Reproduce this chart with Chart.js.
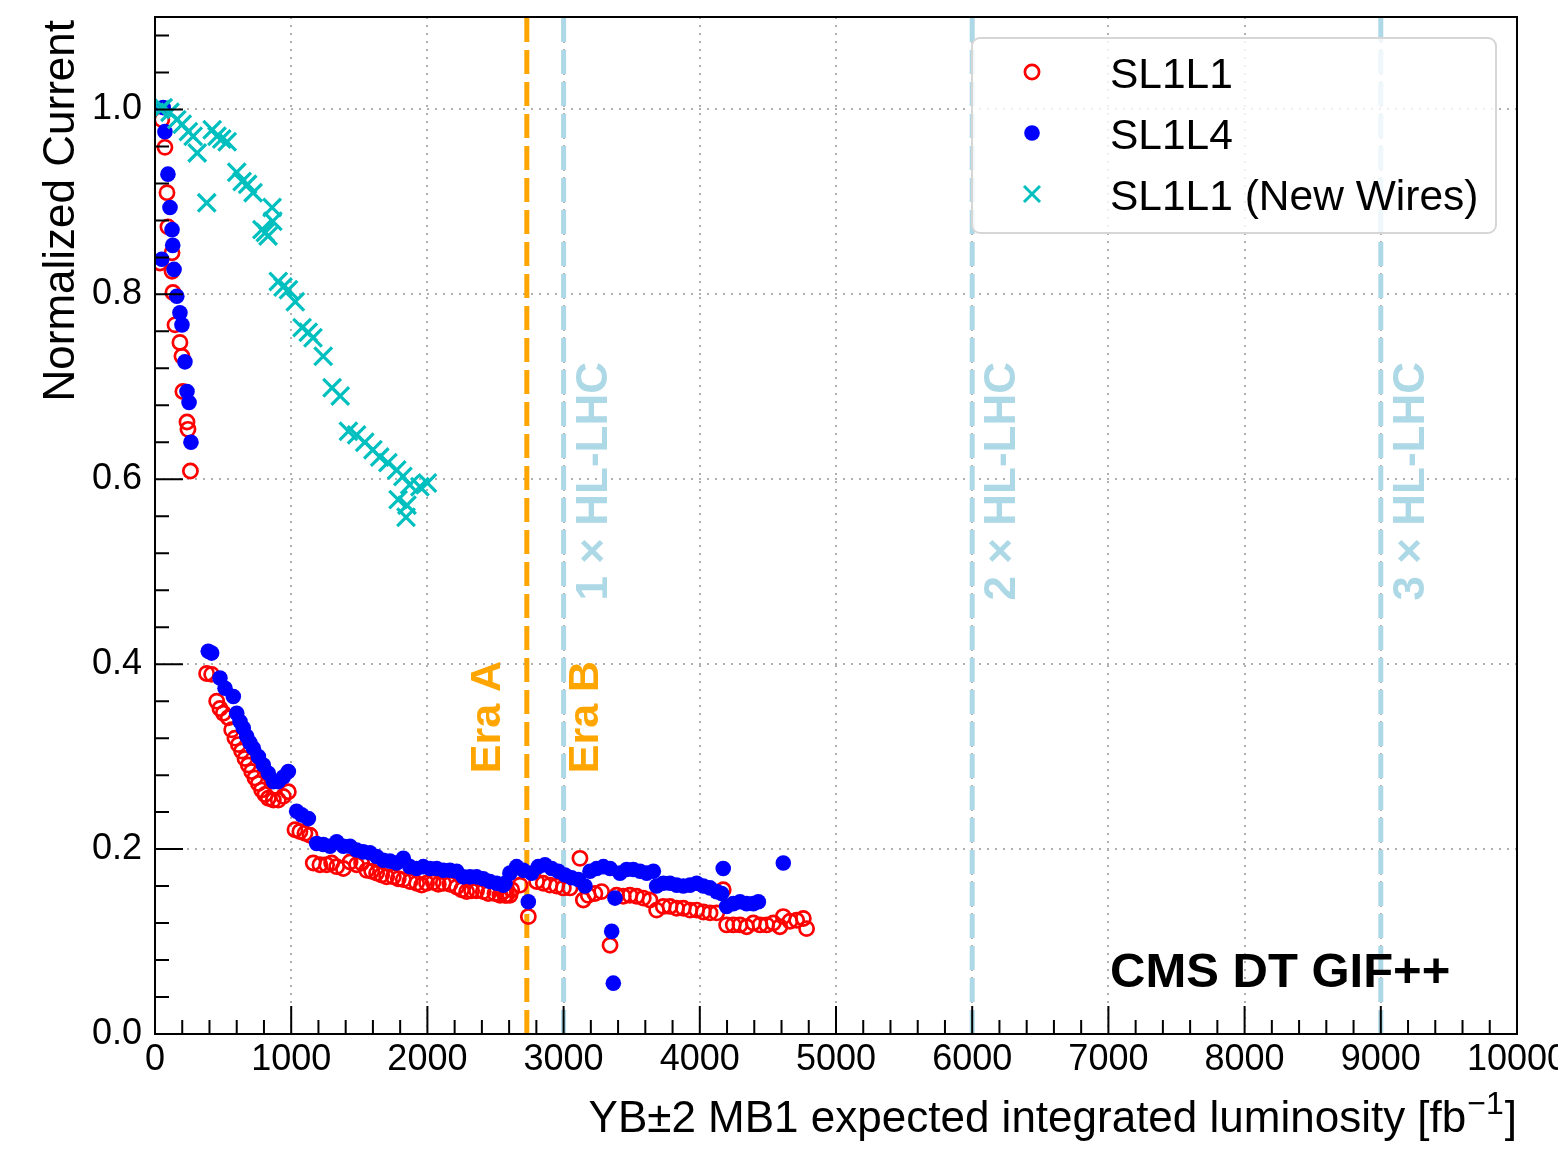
<!DOCTYPE html>
<html>
<head>
<meta charset="utf-8">
<script src="https://cdn.jsdelivr.net/npm/chart.js@4.4.1/dist/chart.umd.min.js"></script>
<style>
  html, body { margin: 0; padding: 0; background: #fff; }
</style>
</head>
<body>
<canvas id="chart" width="1558" height="1153"></canvas>
<script>
// SL1L1 (open red circles)
const sl1l1X = [37, 50, 73, 88, 95, 125, 125, 132, 147, 183, 198, 205, 235, 242, 260,
  379, 416, 453, 477, 502, 538, 563, 587, 612, 636, 661, 685, 710, 734, 759, 783, 808, 832, 869, 905, 942, 979,
  1028, 1064, 1101, 1138, 1162, 1211, 1260, 1297, 1334, 1383, 1432, 1480, 1517, 1554, 1591, 1627, 1664, 1701,
  1750, 1786, 1823, 1872, 1921, 1958, 1994, 2043, 2080, 2117, 2166, 2215, 2251, 2288, 2325, 2361, 2410, 2447,
  2496, 2533, 2557, 2569, 2582, 2606, 2619, 2680, 2741, 2802, 2851, 2900, 2949, 2998, 3047, 3120, 3145, 3181,
  3230, 3279, 3341, 3389, 3438, 3487, 3536, 3585, 3634, 3683, 3732, 3781, 3830, 3879, 3928, 3977, 4026, 4075,
  4124, 4172, 4197, 4246, 4295, 4344, 4393, 4442, 4491, 4540, 4588, 4613, 4662, 4711, 4760, 4784];
const sl1l1Y = [0.834, 0.989, 0.959, 0.910, 0.873, 0.845, 0.825, 0.802, 0.767, 0.748, 0.733, 0.695, 0.662, 0.654, 0.609,
  0.390, 0.389, 0.360, 0.352, 0.347, 0.342, 0.329, 0.320, 0.313, 0.306, 0.298, 0.291, 0.284, 0.277, 0.271, 0.264, 0.259, 0.255, 0.253, 0.253, 0.257, 0.262,
  0.221, 0.219, 0.217, 0.215, 0.185, 0.183, 0.183, 0.185, 0.181, 0.179, 0.186, 0.183, 0.185, 0.177, 0.176, 0.174, 0.172, 0.170,
  0.170, 0.168, 0.167, 0.165, 0.163, 0.161, 0.163, 0.164, 0.162, 0.163, 0.162, 0.159, 0.156, 0.154, 0.155, 0.155, 0.154, 0.152,
  0.152, 0.150, 0.154, 0.150, 0.150, 0.150, 0.156, 0.161, 0.127, 0.165, 0.163, 0.161, 0.160, 0.158, 0.158, 0.190, 0.145, 0.150,
  0.152, 0.154, 0.096, 0.150, 0.149, 0.150, 0.149, 0.147, 0.145, 0.134, 0.138, 0.138, 0.136, 0.136, 0.134, 0.134, 0.132, 0.131,
  0.131, 0.156, 0.118, 0.118, 0.118, 0.116, 0.120, 0.118, 0.118, 0.120, 0.116, 0.127, 0.122, 0.123, 0.125, 0.114];

// SL1L4 (filled blue dots)
const sl1l4X = [50, 60, 73, 95, 110, 125, 130, 140, 160, 183, 198, 220, 235, 250, 264,
  391, 416, 477, 514, 575, 600, 624, 648, 673, 697, 722, 759, 795, 832, 869, 905, 942, 979,
  1040, 1077, 1126, 1187, 1236, 1285, 1334, 1383, 1432, 1480, 1529, 1578, 1627, 1676, 1725, 1774, 1823, 1872,
  1921, 1970, 2019, 2068, 2117, 2166, 2215, 2264, 2313, 2361, 2410, 2459, 2508, 2557, 2570, 2606, 2655, 2704,
  2741, 2765, 2814, 2863, 2912, 2961, 3010, 3059, 3108, 3157, 3194, 3243, 3292, 3341, 3353, 3365, 3377, 3414,
  3463, 3512, 3561, 3610, 3659, 3683, 3732, 3781, 3830, 3879, 3928, 3977, 4026, 4075, 4124, 4160, 4172, 4197,
  4246, 4295, 4344, 4393, 4430, 4613];
const sl1l4Y = [0.838, 1.002, 0.976, 0.930, 0.894, 0.870, 0.853, 0.827, 0.798, 0.780, 0.767, 0.727, 0.695, 0.683, 0.640,
  0.414, 0.412, 0.385, 0.374, 0.365, 0.347, 0.338, 0.331, 0.322, 0.315, 0.309, 0.300, 0.291, 0.282, 0.273, 0.273, 0.278, 0.284,
  0.241, 0.237, 0.233, 0.206, 0.205, 0.203, 0.208, 0.203, 0.203, 0.199, 0.197, 0.196, 0.192, 0.188, 0.187, 0.185, 0.190, 0.181,
  0.179, 0.181, 0.179, 0.179, 0.177, 0.177, 0.176, 0.170, 0.170, 0.170, 0.168, 0.165, 0.163, 0.161, 0.163, 0.174, 0.181, 0.177,
  0.143, 0.174, 0.181, 0.183, 0.179, 0.176, 0.172, 0.169, 0.167, 0.160, 0.176, 0.179, 0.181, 0.179, 0.111, 0.055, 0.147, 0.174,
  0.178, 0.178, 0.176, 0.174, 0.176, 0.160, 0.163, 0.163, 0.161, 0.160, 0.161, 0.163, 0.160, 0.158, 0.154, 0.152, 0.179, 0.138,
  0.141, 0.143, 0.141, 0.141, 0.143, 0.185];

// SL1L1 new wires (cyan crosses)
const newWiresX = [40, 60, 110, 160, 200, 245, 280, 310, 380, 420, 455, 490, 530, 600, 640, 680, 720, 785, 810, 830, 860, 865,
  905, 940, 980, 1030, 1080, 1125, 1160, 1235, 1300, 1360, 1420, 1480, 1540, 1600, 1650, 1710, 1775, 1785, 1820, 1843,
  1850, 1870, 1945, 2000];
const newWiresY = [1.000, 1.002, 0.997, 0.989, 0.984, 0.976, 0.971, 0.953, 0.899, 0.978, 0.971, 0.968, 0.965, 0.932, 0.922, 0.919, 0.910, 0.870, 0.867, 0.863, 0.894, 0.879,
  0.814, 0.808, 0.805, 0.792, 0.764, 0.759, 0.753, 0.733, 0.699, 0.690, 0.652, 0.648, 0.640, 0.632, 0.624, 0.618, 0.610, 0.578, 0.603, 0.559,
  0.572, 0.594, 0.592, 0.596];

const xTicks = [0, 1000, 2000, 3000, 4000, 5000, 6000, 7000, 8000, 9000, 10000];
const yTicks = [0, 0.2, 0.4, 0.6, 0.8, 1.0];
const eraLine = [2730];
const eraLabels = ["Era A", "Era B"];
const hlLines = [3000, 6000, 9000];
const hlLabels = ["1 × HL-LHC", "2 × HL-LHC", "3 × HL-LHC"];
const seriesNames = ["SL1L1", "SL1L4", "SL1L1 (New Wires)"];

const FONT = '"Liberation Sans", Arial, sans-serif';
const RED = "#ff0000", BLUE = "#0000ff", CYAN = "#00bfbf", ORANGE = "#ffa500", LBLUE = "#add8e6";

const pts = (xs, ys) => xs.map((x, i) => ({ x, y: ys[i] }));
const vline = (v, color) => ({
  data: [{ x: v, y: 0 }, { x: v, y: 1.1 }],
  showLine: true, borderColor: color, borderWidth: 5, borderDash: [24, 8],
  pointRadius: 0, order: 10
});

const datasets = [
  { label: seriesNames[0], data: pts(sl1l1X, sl1l1Y), pointStyle: "circle", pointRadius: 7.1,
    pointBorderWidth: 2.7, pointBorderColor: RED, pointBackgroundColor: "rgba(0,0,0,0)", order: 3 },
  { label: seriesNames[1], data: pts(sl1l4X, sl1l4Y), pointStyle: "circle", pointRadius: 7.8,
    pointBorderWidth: 0, pointBackgroundColor: BLUE, order: 2 },
  { label: seriesNames[2], data: pts(newWiresX, newWiresY), pointStyle: "crossRot", pointRadius: 12.5,
    pointBorderWidth: 3.2, pointBorderColor: CYAN, order: 1 },
  vline(eraLine[0], ORANGE),
  ...hlLines.map(v => vline(v, LBLUE))
];

function vText(ctx, s, x, y, align) {
  ctx.save();
  ctx.translate(x, y);
  ctx.rotate(-Math.PI / 2);
  ctx.textAlign = align;
  ctx.textBaseline = "alphabetic";
  ctx.fillText(s, 0, 0);
  ctx.restore();
}

const decor = {
  id: "decor",
  afterDatasetsDraw(chart) {
    const { ctx, chartArea: a, scales: { x, y } } = chart;
    ctx.save();
    // era labels
    ctx.font = `bold 43px ${FONT}`;
    ctx.fillStyle = ORANGE;
    vText(ctx, eraLabels[0], x.getPixelForValue(eraLine[0]) - 27, y.getPixelForValue(0.282), "left");
    vText(ctx, eraLabels[1], x.getPixelForValue(hlLines[0]) + 34, y.getPixelForValue(0.282), "left");
    // HL-LHC labels
    ctx.font = `bold 44px ${FONT}`;
    ctx.fillStyle = LBLUE;
    hlLines.forEach((v, i) => {
      vText(ctx, hlLabels[i], x.getPixelForValue(v) + 43, y.getPixelForValue(0.469), "left");
    });
    // experiment tag
    ctx.fillStyle = "#000";
    ctx.font = `bold 49px ${FONT}`;
    ctx.textAlign = "left";
    ctx.fillText("CMS DT GIF++", a.left + 955, a.bottom - 47);
    ctx.restore();
  },
  afterDraw(chart) {
    const { ctx, chartArea: a, scales: { x, y } } = chart;
    ctx.save();
    // frame
    ctx.strokeStyle = "#000";
    ctx.lineWidth = 2;
    ctx.strokeRect(a.left, a.top, a.right - a.left, a.bottom - a.top);

    // inward ticks
    ctx.beginPath();
    for (let v = 0; v <= 10000; v += 200) {
      const px = x.getPixelForValue(v);
      const len = v % 1000 === 0 ? 28 : 14;
      ctx.moveTo(px, a.bottom);
      ctx.lineTo(px, a.bottom - len);
    }
    for (let k = 0; k <= 27; k++) {
      const py = y.getPixelForValue(k * 0.04);
      const len = k % 5 === 0 ? 28 : 14;
      ctx.moveTo(a.left, py);
      ctx.lineTo(a.left + len, py);
    }
    ctx.stroke();

    // axis titles
    ctx.fillStyle = "#000";
    ctx.font = `44px ${FONT}`;
    vText(ctx, "Normalized Current", 74, a.top + 3, "right");

    const main = "YB±2 MB1 expected integrated luminosity [fb";
    const sup = "−1";
    const end = "]";
    ctx.textAlign = "left";
    ctx.textBaseline = "alphabetic";
    const wEnd = ctx.measureText(end).width;
    const wMain = ctx.measureText(main).width;
    ctx.font = `32px ${FONT}`;
    const wSup = ctx.measureText(sup).width;
    const base = 1132;
    const xEnd = a.right - wEnd;
    const xSup = xEnd - wSup - 1;
    const xMain = xSup - wMain - 1;
    ctx.fillText(sup, xSup, base - 18);
    ctx.font = `44px ${FONT}`;
    ctx.fillText(main, xMain, base);
    ctx.fillText(end, xEnd, base);

    // legend
    const lx = a.right - 545, ly = a.top + 21, lw = 524, lh = 195, r = 8;
    ctx.beginPath();
    ctx.moveTo(lx + r, ly);
    ctx.arcTo(lx + lw, ly, lx + lw, ly + lh, r);
    ctx.arcTo(lx + lw, ly + lh, lx, ly + lh, r);
    ctx.arcTo(lx, ly + lh, lx, ly, r);
    ctx.arcTo(lx, ly, lx + lw, ly, r);
    ctx.closePath();
    ctx.fillStyle = "rgba(255,255,255,0.8)";
    ctx.fill();
    ctx.strokeStyle = "#d6d6d6";
    ctx.lineWidth = 2;
    ctx.stroke();

    ctx.font = `42.5px ${FONT}`;
    seriesNames.forEach((name, i) => {
      const cy = ly + 34 + i * 61;
      const mx = lx + 60;
      ctx.beginPath();
      if (i === 0) {
        ctx.arc(mx, cy, 7.1, 0, Math.PI * 2);
        ctx.strokeStyle = RED; ctx.lineWidth = 2.7; ctx.stroke();
      } else if (i === 1) {
        ctx.arc(mx, cy, 7.8, 0, Math.PI * 2);
        ctx.fillStyle = BLUE; ctx.fill();
      } else {
        const d = 8;
        ctx.moveTo(mx - d, cy - d); ctx.lineTo(mx + d, cy + d);
        ctx.moveTo(mx - d, cy + d); ctx.lineTo(mx + d, cy - d);
        ctx.strokeStyle = CYAN; ctx.lineWidth = 3; ctx.stroke();
      }
      ctx.fillStyle = "#000";
      ctx.fillText(name, lx + 138, cy + 16);
    });
    ctx.restore();
  }
};

new Chart(document.getElementById("chart"), {
  type: "scatter",
  data: { datasets },
  options: {
    responsive: false,
    animation: false,
    devicePixelRatio: 1,
    events: [],
    layout: { padding: { left: 0, right: 41, top: 17, bottom: 0 } },
    plugins: { legend: { display: false }, tooltip: { enabled: false } },
    scales: {
      x: {
        type: "linear", min: 0, max: 10000,
        afterBuildTicks: s => { s.ticks = xTicks.map(v => ({ value: v })); },
        afterFit: s => { s.height = 119; s.paddingLeft = 0; s.paddingRight = 0; },
        ticks: { color: "#000", font: { family: FONT, size: 36 }, padding: 4, maxRotation: 0, autoSkip: false,
          callback: v => String(v) },
        grid: { color: "#b0b0b0", lineWidth: 2, drawTicks: false },
        border: { display: false, dash: [2, 6] }
      },
      y: {
        type: "linear", min: 0, max: 1.1,
        afterBuildTicks: s => { s.ticks = yTicks.map(v => ({ value: v })); },
        afterFit: s => { s.width = 155; s.paddingTop = 0; s.paddingBottom = 0; },
        ticks: { color: "#000", font: { family: FONT, size: 36 }, padding: 13,
          callback: v => v.toFixed(1) },
        grid: { color: "#b0b0b0", lineWidth: 2, drawTicks: false },
        border: { display: false, dash: [2, 6] }
      }
    }
  },
  plugins: [decor]
});
</script>
</body>
</html>
